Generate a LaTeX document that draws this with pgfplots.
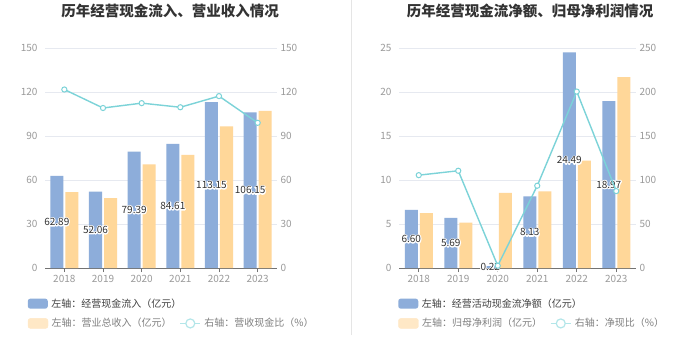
\documentclass[border=0pt]{standalone}
\usepackage{fontspec}
\setmainfont{Noto Sans CJK SC}
\usepackage{pgfplots}
\pgfplotsset{compat=1.18}
\usepackage{pgfplotstable}

\newcommand\halo[1]{\rlap{\special{pdf:code q 1 Tr 1 1 1 RG 2.2 w 1 j}#1\special{pdf:code Q}}#1}

\definecolor{cblue}{HTML}{8DADDA}
\definecolor{corange}{HTML}{FFD799}
\definecolor{corangel}{HTML}{FFE8C6}
\definecolor{ccyan}{HTML}{7CD3D8}
\definecolor{ccyanl}{HTML}{B3E6E9}
\definecolor{ctick}{HTML}{9A9A9A}
\definecolor{cgrid}{HTML}{E6E9F0}
\definecolor{ctitle}{HTML}{333333}
\definecolor{clab}{HTML}{333333}

\pgfplotstableread{
x a b r
0 62.89 51.7 121.7
1 52.06 47.7 109.1
2 79.39 70.6 112.4
3 84.61 77.2 109.6
4 113.15 96.5 117.2
5 106.15 107.2 99.0
}\lefttab

\pgfplotstableread{
x a b r
0 6.60 6.25 105.5
1 5.69 5.15 110.5
2 0.22 8.55 2.6
3 8.13 8.70 93.5
4 24.49 12.20 200.5
5 18.97 21.70 87.4
}\righttab

\pgfplotsset{
 panel/.style={scale only axis, height=220pt, xmin=-0.5, xmax=5.5, ymin=0,
   tick label style={font=\fontsize{10}{12}\selectfont, text=ctick},
   /pgf/number format/assume math mode=true,
   clip=false,
   y axis line style={draw=none},
   ytick style={draw=none},
 },
 lgd/.style={legend style={draw=none, fill=none, inner sep=0pt,
     font=\fontsize{10}{12}\selectfont, anchor=west,
     /tikz/every odd column/.append style={column sep=1.5pt},
     /tikz/every even column/.append style={column sep=6pt}},
   legend cell align=left},
 boxlegend/.style={legend image code/.code={\fill[#1, rounded corners=2.5pt] (0pt,-5pt) rectangle (20pt,5pt);}},
 linelegend/.style={legend image code/.code={\draw[ccyanl, line width=1.2pt] (0pt,0pt) -- (20pt,0pt); \draw[ccyanl, line width=1.2pt, fill=white] (10pt,0pt) circle (4.5pt);}},
 labels/.style={draw=none, mark=none, forget plot, nodes near coords={\halo{\pgfmathprintnumber[fixed, fixed zerofill, precision=2]{\pgfplotspointmeta}}},
   point meta=explicit,
   every node near coord/.append style={anchor=center, xshift=-7.5pt, font=\fontsize{10}{12}\selectfont, text=clab}},
}

\begin{document}
\begin{tikzpicture}
\useasboundingbox (0,0) rectangle (700pt,359pt);
\fill[white] (0,0) rectangle (700pt,359pt);
\draw[black!10, line width=0.8pt] (351pt,24pt) -- (351pt,359pt);

\node[font=\fontsize{14.5}{17}\selectfont\bfseries, text=ctitle] at (170pt,348pt) {历年经营现金流入、营业收入情况};
\node[font=\fontsize{14.5}{17}\selectfont\bfseries, text=ctitle] at (530pt,348pt) {历年经营现金流净额、归母净利润情况};

% ---------- left panel ----------
\begin{axis}[panel, width=232pt, at={(45pt,91pt)}, anchor=south west,
  ymax=150, ytick={0,30,...,150},
  ymajorgrids, grid style={cgrid, line width=0.8pt},
  axis x line*=bottom, axis y line*=left,
  x axis line style={draw=black!55, line width=0.8pt, -},
  xtick={0,...,5}, xticklabels={2018,2019,2020,2021,2022,2023},
  xtick style={draw=black!55, line width=0.8pt}, tick align=outside, major tick length=4pt,
  lgd, legend style={at={(rel axis cs:-0.075,-0.162)}},
  ]
\addplot[ybar, bar width=13pt, bar shift=-7.5pt, fill=cblue, draw=none, boxlegend=cblue] table[x=x,y=a]{\lefttab};
\addplot[ybar, bar width=13pt, bar shift=7.5pt, fill=corange, draw=none, forget plot] table[x=x,y=b]{\lefttab};
\addplot[labels] table[x=x, y expr=\thisrow{a}/2, meta=a]{\lefttab};
\addlegendentry[text=black!75]{左轴：经营现金流入（亿元）}
\end{axis}
\begin{axis}[panel, width=232pt, at={(45pt,91pt)}, anchor=south west,
  ymax=150, ytick={0,30,...,150},
  axis y line*=right, axis x line=none,
  lgd, legend columns=2, legend style={at={(rel axis cs:-0.075,-0.252)}},
  ]
\addlegendimage{boxlegend=corangel}
\addlegendentry[text=black!50]{左轴：营业总收入（亿元）}
\addplot[ccyan, line width=1.4pt, mark=*, mark size=2.6pt, mark options={fill=white, draw=ccyan, line width=1pt}, linelegend] table[x=x,y=r]{\lefttab};
\addlegendentry[text=black!50]{右轴：营收现金比（\%）}
\end{axis}

% ---------- right panel ----------
\begin{axis}[panel, width=237pt, at={(399pt,91pt)}, anchor=south west,
  ymax=25, ytick={0,5,...,25},
  ymajorgrids, grid style={cgrid, line width=0.8pt},
  axis x line*=bottom, axis y line*=left,
  x axis line style={draw=black!55, line width=0.8pt, -},
  xtick={0,...,5}, xticklabels={2018,2019,2020,2021,2022,2023},
  xtick style={draw=black!55, line width=0.8pt}, tick align=outside, major tick length=4pt,
  lgd, legend style={at={(rel axis cs:-0.004,-0.162)}},
  ]
\addplot[ybar, bar width=13pt, bar shift=-7.5pt, fill=cblue, draw=none, boxlegend=cblue] table[x=x,y=a]{\righttab};
\addplot[ybar, bar width=13pt, bar shift=7.5pt, fill=corange, draw=none, forget plot] table[x=x,y=b]{\righttab};
\addplot[labels] table[x=x, y expr=\thisrow{a}/2, meta=a]{\righttab};
\addlegendentry[text=black!75]{左轴：经营活动现金流净额（亿元）}
\end{axis}
\begin{axis}[panel, width=237pt, at={(399pt,91pt)}, anchor=south west,
  ymax=250, ytick={0,50,...,250},
  axis y line*=right, axis x line=none,
  lgd, legend columns=2, legend style={at={(rel axis cs:-0.004,-0.252)}},
  ]
\addlegendimage{boxlegend=corangel}
\addlegendentry[text=black!50]{左轴：归母净利润（亿元）}
\addplot[ccyan, line width=1.4pt, mark=*, mark size=2.6pt, mark options={fill=white, draw=ccyan, line width=1pt}, linelegend] table[x=x,y=r]{\righttab};
\addlegendentry[text=black!50]{右轴：净现比（\%）}
\end{axis}
\end{tikzpicture}
\end{document}
